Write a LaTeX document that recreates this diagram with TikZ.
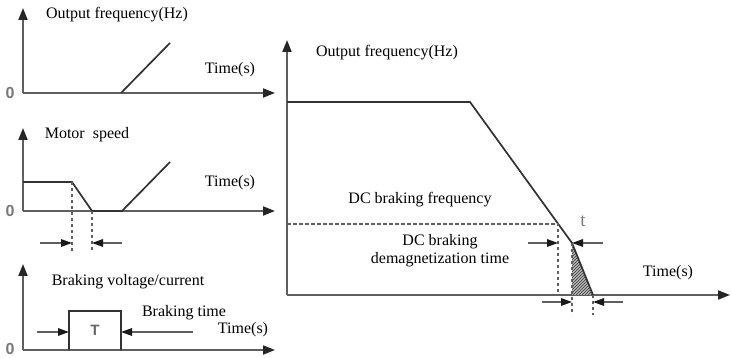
\documentclass[tikz,border=0pt]{standalone}
\usepackage{fontspec}
\setmainfont{Liberation Serif}
\newfontfamily\digitfont{Liberation Sans}
\usetikzlibrary{arrows.meta,patterns}
\definecolor{figK}{RGB}{50,50,50}
\definecolor{figA}{RGB}{95,95,95}
\definecolor{figG}{RGB}{120,120,120}
\tikzset{ax/.style={-{Triangle[length=12pt,width=9pt,color=black!85]}, line width=1.8pt, figA},
  curve/.style={line width=1.7pt, figK},
  guide/.style={dash pattern=on 3.5pt off 2.5pt, line width=1.4pt, figA},
  dim/.style={-{Triangle[length=11pt,width=7.5pt,color=black!90]}, line width=1.5pt, figA},
  lbl/.style={font=\fontsize{16}{18}\selectfont, inner sep=1pt},
  zero/.style={font=\digitfont\bfseries\fontsize{16}{18}\selectfont, figG, inner sep=0pt}}

\begin{document}
\begin{tikzpicture}[x=1pt, y=1pt]
  \useasboundingbox (0,0) rectangle (731,358);
  % top left: output frequency
  \draw[ax] (23,265) -- (23,350);
  \draw[ax] (23,265) -- (275,265);
  \draw[curve] (121,265) -- (170,315);
  \node[lbl] (fout1) at (117,343) {Output frequency(Hz)};
  \node[lbl] (time1) at (230,288) {Time(s)};
  \node[zero] (zero1) at (10,265) {0};
  % middle left: motor speed
  \draw[ax] (23,147) -- (23,230);
  \draw[ax] (23,147) -- (275,147);
  \draw[curve] (23,176) -- (72,176) -- (92,147) -- (122,147) -- (170,196);
  \draw[guide] (72,176) -- (72,106);
  \draw[guide] (92,147) -- (92,106);
  \draw[dim] (40,115) -- (72,115);
  \draw[dim] (122,115) -- (92,115);
  \node[lbl] (speed) at (87,223) {Motor\ \ speed};
  \node[lbl] (time2) at (230,175) {Time(s)};
  \node[zero] (zero2) at (10,147) {0};
  % bottom left: braking voltage/current
  \draw[ax] (23,8) -- (23,94);
  \draw[ax] (23,8) -- (275,8);
  \draw[curve] (69,8) -- (69,47) -- (121,47) -- (121,8);
  \draw[dim] (37,26) -- (69,26);
  \draw[dim] (193,26) -- (121,26);
  \node[zero, font=\digitfont\bfseries\fontsize{15}{17}\selectfont, black!60] (tbrake) at (95,28) {T};
  \node[lbl] (volt) at (128,76) {Braking voltage/current};
  \node[lbl] (btime) at (184,45) {Braking time};
  \node[lbl] (time3) at (243,28) {Time(s)};
  \node[zero] (zero3) at (10,9) {0};
  % right: output frequency with DC braking
  \draw[ax] (287,63) -- (287,318);
  \draw[ax] (287,63) -- (730,63);
  \fill[gray!55] (572,115) -- (572,63) -- (593,63) -- cycle;
  \fill[pattern=north east lines, pattern color=figK] (572,115) -- (572,63) -- (593,63) -- cycle;
  \draw[curve] (287,256) -- (470,256) -- (572,115) -- (593,63);
  \draw[guide] (287,134) -- (558,134) -- (558,63);
  \draw[guide] (572,115) -- (572,43);
  \draw[guide] (593,63) -- (593,43);
  \draw[dim] (528,115) -- (558,115);
  \draw[dim] (603,115) -- (572,115);
  \draw[dim] (542,56) -- (572,56);
  \draw[dim] (623,56) -- (593,56);
  \node[lbl] (fout2) at (387,305) {Output frequency(Hz)};
  \node[lbl] (dcfreq) at (420,158) {DC braking frequency};
  \node[lbl, align=center] (dctime) at (440,107) {DC braking\\demagnetization time};
  \node[lbl, figG, font=\fontsize{19}{20}\selectfont] (tdemag) at (583,137) {t};
  \node[lbl] (time4) at (668,85) {Time(s)};
\end{tikzpicture}
\end{document}
